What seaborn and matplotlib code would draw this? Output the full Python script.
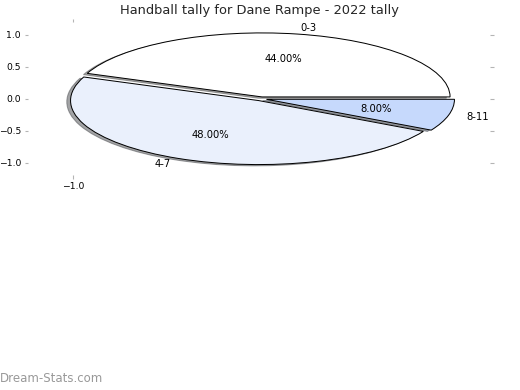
import matplotlib
matplotlib.use("Agg")
import matplotlib.pyplot as plt
from matplotlib.ticker import FuncFormatter
import seaborn as sns

categories = ["0-3", "4-7", "8-11"]
values = [44, 48, 8]
colors = ["#ffffff", "#eaf0fc", "#c6d9fc"]
explode = [0.03, 0.03, 0.03]
yticks = [-1.0, -0.5, 0.0, 0.5, 1.0]
xticks = [-1.0]

sns.set_theme(style="white")
plt.rcParams['font.family'] = ['DejaVu Sans']

DPI = 72
fig = plt.figure(figsize=(520 / DPI, 390 / DPI), dpi=DPI)
ax = fig.add_axes([28/520, 1-175/390, (490-28)/520, (175-22)/390])

wedges, texts, autotexts = ax.pie(
    values, labels=categories, colors=colors, explode=explode,
    autopct="%.2f%%", shadow=True, startangle=0, frame=True,
    wedgeprops=dict(edgecolor="black", linewidth=1.0),
    textprops=dict(fontsize=10, color="black"))

ax.set_aspect("auto")
ax.set_xlim(-1.239, 1.218)
ax.set_ylim(-1.19, 1.20)
ax.set_xticks(xticks)
ax.set_yticks(yticks)
fmt = FuncFormatter(lambda v, p: f"{v:.1f}".replace("-", "\u2212"))
ax.xaxis.set_major_formatter(fmt)
ax.yaxis.set_major_formatter(fmt)
ax.tick_params(axis="both", which="both", direction="out", length=3.5, width=1.1,
               color="#b4b4b4", labelsize=9.3, labelcolor="black", pad=3.5,
               left=True, right=True, top=True, bottom=True,
               labelleft=True, labelright=False, labeltop=False, labelbottom=True)
for s in ax.spines.values():
    s.set_visible(False)

ax.set_title("Handball tally for Dane Rampe - 2022 tally", fontsize=13, pad=8)

fig.text(0.0, 0.012, "Dream-Stats.com", fontsize=11.8, color="#999999", ha="left", va="bottom")

fig.savefig("out.png", dpi=DPI)
